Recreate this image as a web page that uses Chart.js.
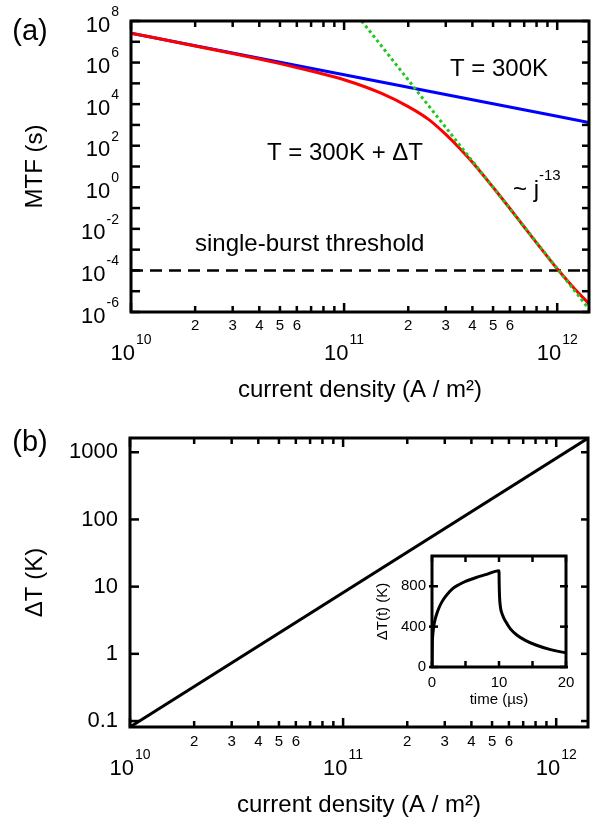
<!DOCTYPE html>
<html>
<head>
<meta charset="utf-8">
<title>MTF and Joule heating vs current density</title>
<script src="https://cdn.jsdelivr.net/npm/chart.js@4.4.1/dist/chart.umd.min.js"></script>
<style>
html,body{margin:0;padding:0;background:#fff}
#wrap{position:relative;width:592px;height:825px;overflow:hidden}
#wrap canvas{position:absolute}
</style>
</head>
<body>
<div id="wrap">
<canvas id="cv-a" width="592" height="415" style="left:0;top:0"></canvas>
<canvas id="cv-b" width="592" height="410" style="left:0;top:415px"></canvas>
<canvas id="cv-in" width="220" height="175" style="left:360px;top:540px"></canvas>
</div>
<script>
'use strict';

/* ═══════════ DATA ═══════════ */
/* (a) time to failure: T = 300 K (blue), T = 300 K + dT (red) */
var jBlue=[1e10,1e11,1e12,1.41e12];
var mtfBlue=[2.6e7,2.6e5,2.6e3,1.3e3];
var jRed=[1e10,2e10,3e10,4e10,5e10,7e10,1e11,1.5e11,2e11,2.5e11,3e11,3.5e11,4e11,5e11,6e11,7e11,8e11,9e11,1e12,1.2e12,1.41e12];
var mtfRed=[2.6e7,6.3e6,2.75e6,1.48e6,8.9e5,3.9e5,1.5e5,3.3e4,7.6e3,1.8e3,3.5e2,7.2e1,1.6e1,1.0,9.5e-2,1.23e-2,2.1e-3,4.6e-4,1.2e-4,1.4e-5,2.5e-6];
/* ~ j^-13 guide */
var jFit=[1.21e11,1.41e12];
var mtfFit=[1e8,1.4e-6];
/* single-burst threshold */
var jBurst=[1e10,1.41e12];
var mtfBurst=[1e-4,1e-4];
var mtfLabelExp=[-6,-4,-2,0,2,4,6,8];

/* (b) temperature rise */
var jHeat=[1e10,1.41e12];
var dtHeat=[0.0815,1620];
var dtTicks=['0.1','1','10','100','1000'];

/* inset: dT(t) during and after a 10 us pulse */
var tPulse=[0,0.05,0.15,0.3,0.5,0.75,1,1.5,2,3,4,5,6.5,8,10,10.03,10.08,10.2,10.5,11,11.7,12.7,14,15.5,17.7,20];
var dtPulse=[0,230,340,420,480,535,580,648,698,772,815,848,884,915,955,820,700,600,520,450,378,315,262,218,172,140];
var tPulseTicks=[0,5,10,15,20];
var tPulseLabels=['0','10','20'];
var dtPulseTicks=['0','400','800'];

var minorLabels=['2','3','4','5','6'];

/* ═══════════ HELPERS ═══════════ */
var FONT='"Liberation Sans", Arial, Helvetica, sans-serif';
function gel(id){return document.getElementById(id)}
function xy(xs,ys){return xs.map(function(x,i){return{x:x,y:ys[i]}})}
function lineSet(xs,ys,color,extra){var d={data:xy(xs,ys),borderColor:color,borderWidth:3,pointRadius:0,fill:false,clip:0,tension:0};
  if(extra)Object.keys(extra).forEach(function(k){d[k]=extra[k]});return d}
function baseOpts(pad,sx,sy){return{
  responsive:false,animation:false,devicePixelRatio:1,events:[],
  layout:{padding:pad},
  plugins:{legend:{display:false},tooltip:{enabled:false}},
  scales:{x:sx,y:sy}}}

function tick(ctx,x1,y1,x2,y2){ctx.beginPath();ctx.moveTo(x1,y1);ctx.lineTo(x2,y2);ctx.stroke()}
function txt(ctx,s,x,y,size,align){ctx.font=size+'px '+FONT;ctx.textAlign=align||'center';ctx.textBaseline='middle';ctx.fillText(s,x,y)}
function vtitle(ctx,s,x,y,size){ctx.save();ctx.translate(x,y);ctx.rotate(-Math.PI/2);txt(ctx,s,0,0,size);ctx.restore()}
function frame(ctx,a,w){ctx.lineWidth=w||3;ctx.strokeRect(a.left,a.top,a.right-a.left,a.bottom-a.top)}
/* "10" with a raised exponent, y is the tick position */
function pow10(ctx,e,x,y,align){
  ctx.font='22px '+FONT;var wb=ctx.measureText('10').width;
  ctx.font='14px '+FONT;var we=ctx.measureText(e).width;
  var x0=align==='right'?x-wb-we-1:x-(wb+we+1)/2;
  txt(ctx,'10',x0,y+4.5,22,'left');
  txt(ctx,e,x0+wb+1,y-9,14,'left')}

/* current density axis: decade + minor ticks inward on bottom and top */
function jAxis(chart,minorOff){
  var ctx=chart.ctx,a=chart.chartArea,sx=chart.scales.x;
  ctx.lineWidth=2.5;
  for(var e=10;e<=12;e++){
    for(var k=1;k<10;k++){
      var v=k*Math.pow(10,e);if(v>sx.max*1.0001)break;
      var px=sx.getPixelForValue(v),len=k===1?9:6;
      tick(ctx,px,a.bottom,px,a.bottom-len);
      tick(ctx,px,a.top,px,a.top+len);
      if(k===1)pow10(ctx,String(e),px,a.bottom+37,'center');
      else if(k<=6)txt(ctx,minorLabels[k-2],px,a.bottom+minorOff,15)}}
  txt(ctx,'current density (A / m\u00b2)',(a.left+a.right)/2,a.bottom+78,24)}

/* ═══════════ PANEL (a) ═══════════ */
function drawA(chart){
  var ctx=chart.ctx,a=chart.chartArea,sy=chart.scales.y;
  ctx.save();ctx.fillStyle='#000';ctx.strokeStyle='#000';
  jAxis(chart,13.5);
  ctx.lineWidth=2.5;
  for(var e=-6;e<=8;e++){var py=sy.getPixelForValue(Math.pow(10,e));
    tick(ctx,a.left,py,a.left+9,py);tick(ctx,a.right,py,a.right-7,py);
    if(mtfLabelExp.indexOf(e)>=0)pow10(ctx,String(e),a.left-12,py,'right')}
  frame(ctx,a);
  vtitle(ctx,'MTF (s)',35,(a.top+a.bottom)/2,24);
  txt(ctx,'(a)',30,32,29);
  txt(ctx,'T = 300K',450,69,24,'left');
  txt(ctx,'T = 300K + \u0394T',423,153,24,'right');
  txt(ctx,'~ j',513,190,24,'left');
  txt(ctx,'-13',539,176,15,'left');
  txt(ctx,'single-burst threshold',195,244,24,'left');
  ctx.restore()}

new Chart(gel('cv-a'),{type:'line',
  data:{datasets:[
    lineSet(jFit,mtfFit,'#1ec81e',{borderDash:[3,3]}),
    lineSet(jRed,mtfRed,'#ff0000',{cubicInterpolationMode:'monotone'}),
    lineSet(jBlue,mtfBlue,'#0000ff'),
    lineSet(jBurst,mtfBurst,'#000000',{borderWidth:2.5,borderDash:[12,7]})]},
  options:baseOpts({left:131,top:21,right:3,bottom:103},
    {type:'logarithmic',min:1e10,max:1.41e12,display:false},
    {type:'logarithmic',min:1e-6,max:1e8,display:false}),
  plugins:[{id:'axesA',afterDraw:drawA}]});

/* ═══════════ PANEL (b) ═══════════ */
function drawB(chart){
  var ctx=chart.ctx,a=chart.chartArea,sy=chart.scales.y;
  ctx.save();ctx.fillStyle='#000';ctx.strokeStyle='#000';
  jAxis(chart,14.5);
  ctx.lineWidth=2.5;
  dtTicks.forEach(function(s){var py=sy.getPixelForValue(parseFloat(s));
    tick(ctx,a.left,py,a.left+9,py);tick(ctx,a.right,py,a.right-7,py);
    txt(ctx,s,a.left-12,py,22,'right')});
  frame(ctx,a);
  vtitle(ctx,'\u0394T (K)',35,(a.top+a.bottom)/2,24);
  txt(ctx,'(b)',30,28,29);
  ctx.restore()}

new Chart(gel('cv-b'),{type:'line',
  data:{datasets:[lineSet(jHeat,dtHeat,'#000000')]},
  options:baseOpts({left:130,top:23,right:4,bottom:98},
    {type:'logarithmic',min:1e10,max:1.41e12,display:false},
    {type:'logarithmic',min:0.0815,max:1630,display:false}),
  plugins:[{id:'axesB',afterDraw:drawB}]});

/* ═══════════ INSET ═══════════ */
function drawIn(chart){
  var ctx=chart.ctx,a=chart.chartArea,sx=chart.scales.x,sy=chart.scales.y;
  ctx.save();ctx.fillStyle='#000';ctx.strokeStyle='#000';ctx.lineWidth=2.5;
  tPulseTicks.forEach(function(t){var px=sx.getPixelForValue(t);
    tick(ctx,px,a.bottom,px,a.bottom-6);tick(ctx,px,a.top,px,a.top+6)});
  tPulseLabels.forEach(function(s){txt(ctx,s,sx.getPixelForValue(parseFloat(s)),a.bottom+16,15)});
  dtPulseTicks.forEach(function(s){var py=sy.getPixelForValue(parseFloat(s));
    tick(ctx,a.left-3,py,a.left+6,py);tick(ctx,a.right+2,py,a.right-6,py);
    txt(ctx,s,a.left-6,py,15,'right')});
  frame(ctx,a);
  txt(ctx,'time (\u00b5s)',(a.left+a.right)/2,a.bottom+33,15);
  vtitle(ctx,'\u0394T(t) (K)',a.left-49,(a.top+a.bottom)/2,15);
  ctx.restore()}

new Chart(gel('cv-in'),{type:'line',
  data:{datasets:[lineSet(tPulse,dtPulse,'#000000',{cubicInterpolationMode:'monotone'})]},
  options:baseOpts({left:72,top:16,right:14,bottom:48},
    {type:'linear',min:0,max:20,display:false},
    {type:'linear',min:0,max:1100,display:false}),
  plugins:[{id:'axesIn',afterDraw:drawIn}]});
</script>
</body>
</html>
